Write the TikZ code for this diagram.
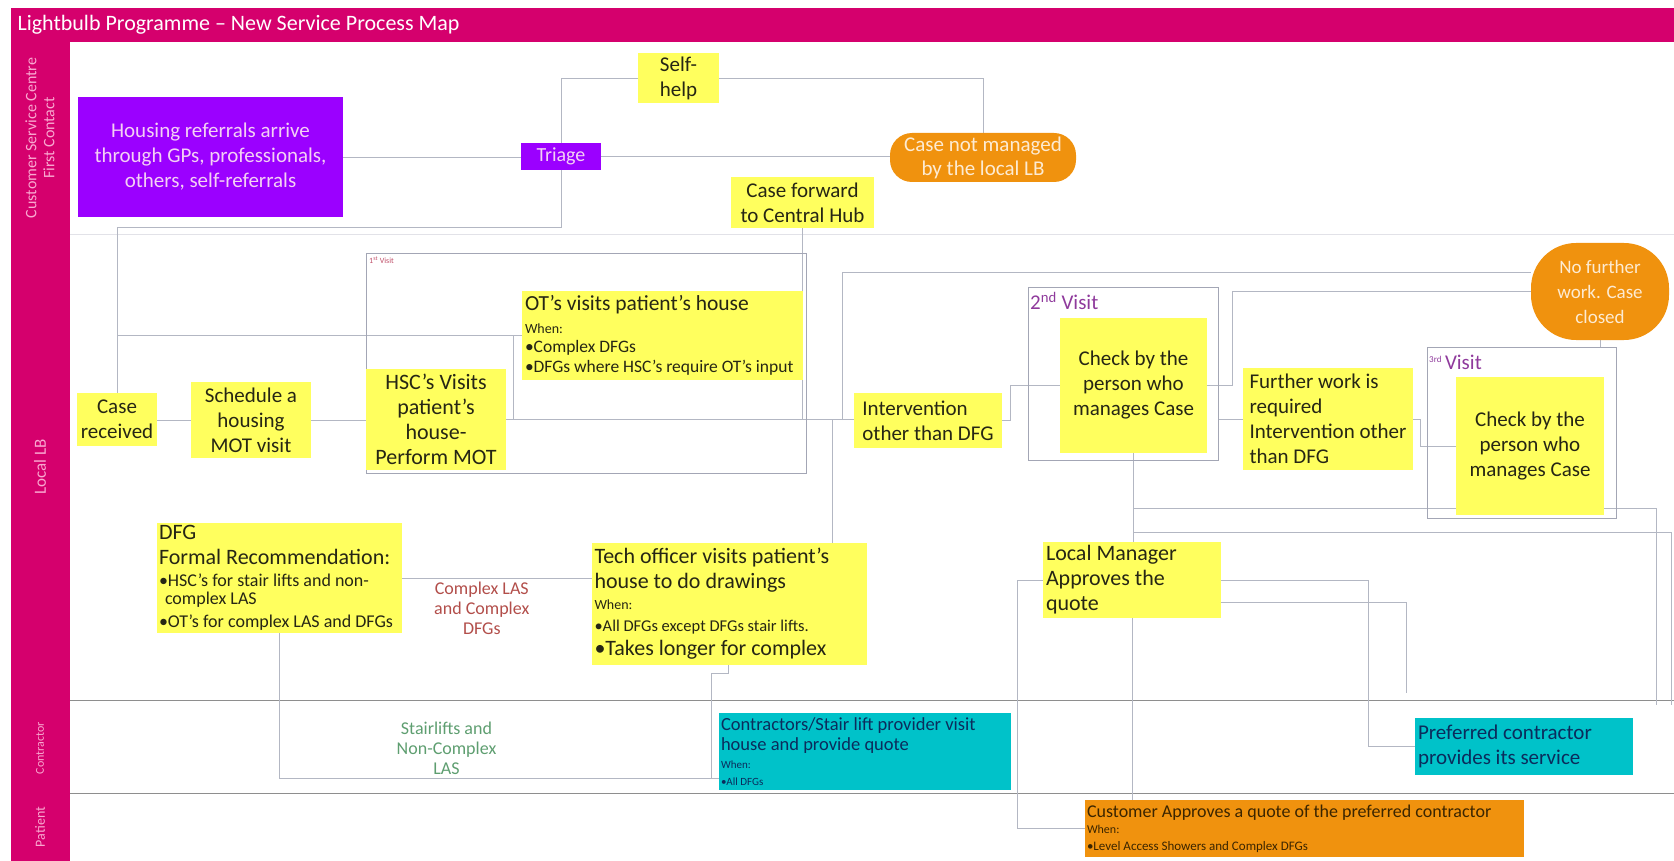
\documentclass[tikz,border=0pt]{standalone}
\usepackage{fontspec}
\setmainfont{Carlito}
\usetikzlibrary{positioning,backgrounds}

\newcommand{\fsz}[2]{\fontsize{#1}{#2}\selectfont}
\newcommand{\leftblock}[2]{\parbox{#1}{\raggedright #2}}

\definecolor{magentaband}{HTML}{D5006D}
\definecolor{lanetext}{HTML}{F9A8D0}
\definecolor{refpurple}{HTML}{9B00FF}
\definecolor{purpletext}{HTML}{F4D0F4}
\definecolor{stickyyellow}{HTML}{FFFF5E}
\definecolor{stickytext}{HTML}{262614}
\definecolor{endorange}{HTML}{F0920E}
\definecolor{endtext}{HTML}{FDEBD2}
\definecolor{provcyan}{HTML}{00C2C9}
\definecolor{provtext}{HTML}{0B2C5C}
\definecolor{custtext}{HTML}{3B2500}
\definecolor{linegray}{HTML}{B3B7C3}
\definecolor{framegray}{HTML}{A3A6B5}
\definecolor{lanegray}{HTML}{8E8E8E}
\definecolor{lanelight}{HTML}{E2E2E8}
\definecolor{lasred}{HTML}{B24E4A}
\definecolor{stairgreen}{HTML}{5E9E70}
\definecolor{visitpurple}{HTML}{8F3A9C}
\definecolor{visitred}{HTML}{C0506A}

\begin{document}
\begin{tikzpicture}[
	x=1pt, y=-1pt,
	sticky/.style={ fill=stickyyellow, text=stickytext, inner sep=3pt, outer sep=0pt, align=center, font=\fsz{21}{25}, anchor=north west },
	purplebox/.style={ fill=refpurple, text=purpletext, inner sep=3pt, outer sep=0pt, align=center, font=\fsz{21}{25}, anchor=north west },
	endbox/.style={ fill=endorange, text=endtext, rounded corners=22pt, inner sep=3pt, outer sep=0pt, align=center, font=\fsz{21}{24}, anchor=north west },
	cyanbox/.style={ fill=provcyan, text=provtext, inner sep=3pt, outer sep=0pt, anchor=north west },
	visitframe/.style={ draw=framegray, line width=0.8pt, inner sep=0pt, outer sep=0pt, anchor=north west },
	conn/.style={ draw=linegray, line width=0.8pt },
	lanelabel/.style={ rotate=90, text=lanetext, font=\fsz{16}{18}, align=center },
	lanesep/.style={ draw=lanegray, line width=1pt }
]
\useasboundingbox (0,0) rectangle (1674,861);

% title and lane bands
\fill[magentaband] (11,8) rectangle (1674,42);
\fill[magentaband] (11,42) rectangle (70,861);
\node[anchor=west, text=white, font=\fsz{22}{26}] (title) at (14,25) {Lightbulb Programme – New Service Process Map};
\node[lanelabel] (lanecsc) at (40,138) {Customer Service Centre\\First Contact};
\node[lanelabel, font=\fsz{17}{19}] (lanelb) at (40,467) {Local LB};
\node[lanelabel, font=\fsz{12}{14}] (lanecon) at (40,748) {Contractor};
\node[lanelabel, font=\fsz{14}{16}] (lanepat) at (40,827) {Patient};

% customer service centre
\node[purplebox, minimum width=265pt, minimum height=120pt] (referral) at (78,97) {Housing referrals arrive\\through GPs, professionals,\\others, self-referrals};
\node[purplebox, minimum width=80pt, minimum height=27pt, font=\fsz{20}{22}] (triage) at (521,143) {Triage};
\node[sticky, minimum width=81pt, minimum height=50pt] (selfhelp) at (638,53) {Self-\\help};
\node[endbox, minimum width=186pt, minimum height=49pt] (notmanaged) at (890,133) {Case not managed\\by the local LB};
\node[sticky, minimum width=143pt, minimum height=51pt] (forward) at (731,177) {Case forward\\to Central Hub};

% local LB, 1st visit
\node[sticky, minimum width=80pt, minimum height=53pt] (received) at (77,393) {Case\\received};
\node[sticky, minimum width=120pt, minimum height=76pt] (schedule) at (191,382) {Schedule a\\housing\\MOT visit};
\node[visitframe, minimum width=440pt, minimum height=220pt] (visit1) at (366,253) {};
\node[anchor=north west, text=visitred, font=\fsz{8}{9}, inner sep=1pt] (visit1lbl) at (368,256) {1\textsuperscript{st} Visit};
\node[sticky, minimum width=140pt, minimum height=101pt, font=\fsz{22}{25}] (hsc) at (366,369) {HSC’s Visits\\patient’s\\house-\\Perform MOT};
\node[sticky, minimum width=281pt, minimum height=89pt] (ot) at (522,291)
	{\leftblock{275pt}{{\fsz{21.5}{23}OT’s visits patient’s house\par}{\fsz{14}{23}When:\par}{\fsz{17.5}{19}•Complex DFGs\par}{\fsz{17.5}{20}•DFGs where HSC’s require OT’s input\par}}};
\node[sticky, minimum width=148pt, minimum height=55pt, align=left] (intervention) at (854,393) {Intervention\\other than DFG};

% 2nd and 3rd visit
\node[visitframe, minimum width=190pt, minimum height=173pt] (visit2) at (1028,287) {};
\node[anchor=west, text=visitpurple, font=\fsz{21}{24}, inner sep=0pt] (visit2lbl) at (1030,301) {2\textsuperscript{nd} Visit};
\node[sticky, minimum width=147pt, minimum height=135pt] (check2) at (1060,318) {Check by the\\person who\\manages Case};
\node[sticky, minimum width=170pt, minimum height=102pt, align=left] (further) at (1243,368) {Further work is\\required\\Intervention other\\than DFG};
\node[visitframe, minimum width=189pt, minimum height=171pt] (visit3) at (1427,347) {};
\node[anchor=west, text=visitpurple, font=\fsz{21}{24}, inner sep=0pt] (visit3lbl) at (1429,362) {\raisebox{7pt}{\fsz{9}{10}3rd}\,Visit};
\node[sticky, minimum width=148pt, minimum height=138pt] (check3) at (1456,377) {Check by the\\person who\\manages Case};
\node[endbox, minimum width=138pt, minimum height=97pt, rounded corners=45pt, font=\fsz{19}{25}] (closed) at (1531,243) {No further\\work. Case\\closed};

% local LB, DFG route
\node[sticky, minimum width=245pt, minimum height=110pt, inner sep=1.5pt] (dfg) at (157,523)
	{\leftblock{241pt}{{\fsz{22}{25}DFG\par Formal Recommendation:\par}{\fsz{18}{22}•HSC’s for stair lifts and non-\par}{\fsz{18}{18}\hspace*{6pt}complex LAS\par}{\fsz{18}{23}•OT’s for complex LAS and DFGs\par}}};
\node[sticky, minimum width=275pt, minimum height=122pt, inner sep=2pt] (tech) at (592,543)
	{\leftblock{270pt}{{\fsz{22}{25}Tech officer visits patient’s\par house to do drawings\par}{\fsz{14}{21}When:\par}{\fsz{16.5}{22}•All DFGs except DFGs stair lifts.\par}{\fsz{22}{24}•Takes longer for complex\par}}};
\node[sticky, minimum width=178pt, minimum height=76pt, font=\fsz{22}{25}] (localmgr) at (1043,542) {\leftblock{172pt}{Local Manager\par Approves the\par quote}};

% contractor
\node[cyanbox, minimum width=292pt, minimum height=77pt, inner sep=2pt] (contractors) at (719,713)
	{\leftblock{288pt}{{\fsz{18.5}{20}Contractors/Stair lift provider visit\par}{\fsz{18.5}{20}house and provide quote\par}{\fsz{11}{18}When:\par}{\fsz{11}{17}•All DFGs\par}}};
\node[cyanbox, minimum width=218pt, minimum height=57pt, font=\fsz{21}{25}] (preferred) at (1415,718) {\leftblock{212pt}{Preferred contractor\par provides its service}};

% patient
\node[fill=endorange, text=custtext, anchor=north west, minimum width=439pt, minimum height=57pt, inner sep=2pt, outer sep=0pt] (custapp) at (1085,800)
	{\leftblock{435pt}{{\fsz{18}{19}Customer Approves a quote of the preferred contractor\par}{\fsz{12}{16}When:\par}{\fsz{13}{17}•Level Access Showers and Complex DFGs\par}}};

\begin{scope}[on background layer]
	% lane separators
	\draw[lanesep, draw=lanelight] (70,235) -- (1674,235);
	\foreach \y in {700,793} \draw[lanesep] (70,\y) -- (1674,\y);

	% first contact
	\draw[conn] (referral.east) -- (referral.east -| triage.west);
	\draw[conn] (triage.east) -- (triage.east -| notmanaged.west);
	\draw[conn] (triage.north) |- (selfhelp.west);
	\draw[conn] (selfhelp.east) -| (notmanaged.north);
	\draw[conn] (triage.south) -- (triage.south |- 0,227) -| (received.north);

	% 1st visit
	\coordinate (otdrop) at (513,335.5);
	\draw[conn] (received.north |- ot.west) -- (ot.west);
	\draw[conn] (otdrop) -- (otdrop |- hsc.east);
	\draw[conn] (received.east |- schedule.west) -- (schedule.west);
	\draw[conn] (schedule.east) -- (schedule.east -| hsc.west);
	\draw[conn] (hsc.east) -- (hsc.east -| intervention.west);
	\draw[conn] (forward.south) -- (forward.south |- hsc.east);

	% intervention and later visits
	\coordinate (techdrop) at (832,420);
	\coordinate (closedrise) at (842,420);
	\coordinate (c2rise) at (1232,385.5);
	\draw[conn] (techdrop) -- (techdrop |- tech.north);
	\draw[conn] (closedrise) |- ([yshift=19.5pt]closed.west);
	\draw[conn] (intervention.east) -- ++(8,0) |- (check2.west);
	\draw[conn] (check2.east) -- (c2rise) |- (closed.west);
	\draw[conn] (visit2.east |- further.west) -- (further.west);
	\draw[conn] (further.east) -- ++(7,0) |- (check3.west);
	\draw[conn] (closed.south) -- (closed.south |- visit3.north);

	% manager and contractor
	\coordinate (endA) at (1656,705);
	\coordinate (endB) at (1671,705);
	\coordinate (mgrloop) at (1017,828.5);
	\coordinate (prefdrop) at (1368,580);
	\coordinate (mgrend) at (1406,693);
	\draw[conn] (check2.south) -- (check2.south |- localmgr.north);
	\draw[conn] (check2.south |- 0,508) -| (endA);
	\draw[conn] (check2.south |- 0,532) -| (endB);
	\draw[conn] (localmgr.south) -- (localmgr.south |- custapp.north);
	\draw[conn] (custapp.west) -- (mgrloop) |- (localmgr.west);
	\draw[conn] (localmgr.east) -- (prefdrop) |- (preferred.west);
	\draw[conn] ([yshift=-22pt]localmgr.east) -| (mgrend);

	% DFG routes
	\coordinate (techout) at (728,665);
	\draw[conn] (dfg.east) -- (dfg.east -| tech.west)
		node[pos=0.42, below, text=lasred, font=\fsz{18}{20}, align=center] (laslbl) {Complex LAS\\and Complex\\DFGs};
	\draw[conn] (dfg.south) |- ([yshift=-26.5pt]contractors.west)
		node[pos=0.69, above, text=stairgreen, font=\fsz{18}{20}, align=center] (stairlbl) {Stairlifts and\\Non-Complex\\LAS};
	\draw[conn] (techout) |- (711,673) |- ([yshift=-26.5pt]contractors.west);
\end{scope}

\end{tikzpicture}
\end{document}
